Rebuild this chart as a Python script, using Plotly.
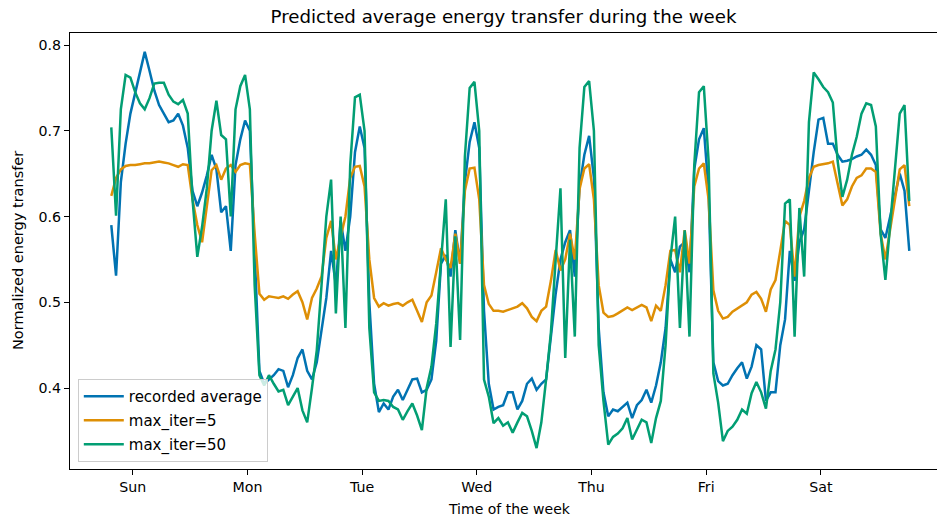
import plotly.graph_objects as go

hours = list(range(168))

recorded_average = [
    0.590, 0.531, 0.640, 0.685, 0.720, 0.745, 0.767, 0.792, 0.770, 0.747,
    0.730, 0.720, 0.710, 0.712, 0.720, 0.706, 0.680, 0.630, 0.612, 0.628,
    0.648, 0.672, 0.655, 0.605, 0.612, 0.560, 0.660, 0.690, 0.712, 0.700,
    0.555, 0.420, 0.405, 0.410, 0.415, 0.422, 0.420, 0.401, 0.415, 0.435,
    0.445, 0.420, 0.410, 0.430, 0.465, 0.505, 0.560, 0.520, 0.595, 0.560,
    0.600, 0.675, 0.705, 0.680, 0.500, 0.405, 0.372, 0.382, 0.375, 0.390,
    0.398, 0.386, 0.398, 0.410, 0.411, 0.395, 0.398, 0.410, 0.455, 0.545,
    0.555, 0.530, 0.584, 0.545, 0.640, 0.687, 0.710, 0.680, 0.490, 0.405,
    0.375, 0.378, 0.380, 0.395, 0.395, 0.375, 0.385, 0.405, 0.411, 0.398,
    0.405, 0.410, 0.460, 0.510, 0.550, 0.570, 0.584, 0.530, 0.635, 0.672,
    0.694, 0.645, 0.470, 0.395, 0.367, 0.375, 0.373, 0.378, 0.383, 0.365,
    0.380, 0.386, 0.398, 0.383, 0.403, 0.430, 0.470, 0.550, 0.535, 0.565,
    0.570, 0.535, 0.655, 0.690, 0.703, 0.630, 0.430, 0.408, 0.403, 0.405,
    0.415, 0.423, 0.430, 0.411, 0.425, 0.450, 0.445, 0.385, 0.395, 0.395,
    0.450, 0.480, 0.560, 0.525, 0.570, 0.585, 0.632, 0.675, 0.713, 0.715,
    0.685, 0.685, 0.672, 0.664, 0.665, 0.667, 0.670, 0.672, 0.678, 0.672,
    0.660, 0.585, 0.575, 0.600, 0.625, 0.650, 0.630, 0.560,
]

max_iter_5 = [
    0.624, 0.645, 0.655, 0.659, 0.660, 0.660, 0.661, 0.662, 0.662, 0.663,
    0.664, 0.663, 0.662, 0.660, 0.658, 0.661, 0.660, 0.620, 0.590, 0.570,
    0.615, 0.654, 0.660, 0.643, 0.656, 0.660, 0.652, 0.660, 0.662, 0.661,
    0.580, 0.510, 0.503, 0.507, 0.506, 0.505, 0.507, 0.504, 0.509, 0.513,
    0.500, 0.480, 0.505, 0.516, 0.530, 0.575, 0.595, 0.550, 0.576, 0.600,
    0.645, 0.658, 0.659, 0.635, 0.550, 0.505, 0.495, 0.499, 0.496, 0.498,
    0.499, 0.496, 0.500, 0.503, 0.490, 0.477, 0.500, 0.508, 0.535, 0.563,
    0.550, 0.540, 0.580, 0.545, 0.630, 0.656, 0.657, 0.620, 0.520, 0.498,
    0.490, 0.490, 0.489, 0.491, 0.493, 0.495, 0.499, 0.493, 0.483, 0.478,
    0.490, 0.495, 0.525, 0.561, 0.537, 0.550, 0.580, 0.550, 0.632, 0.656,
    0.661, 0.620, 0.520, 0.488, 0.483, 0.484, 0.487, 0.491, 0.494, 0.491,
    0.494, 0.497, 0.494, 0.478, 0.496, 0.490, 0.520, 0.560, 0.561, 0.535,
    0.584, 0.545, 0.635, 0.656, 0.662, 0.620, 0.514, 0.490, 0.481, 0.483,
    0.489, 0.493, 0.497, 0.500, 0.509, 0.512, 0.504, 0.489, 0.515, 0.526,
    0.560, 0.595, 0.590, 0.530, 0.600, 0.618, 0.645, 0.658, 0.660, 0.661,
    0.662, 0.664, 0.640, 0.613, 0.620, 0.635, 0.645, 0.648, 0.656, 0.656,
    0.652, 0.580, 0.550, 0.585, 0.623, 0.655, 0.660, 0.612,
]

max_iter_50 = [
    0.704, 0.601, 0.725, 0.765, 0.762, 0.745, 0.732, 0.725, 0.738, 0.755,
    0.756, 0.756, 0.742, 0.734, 0.731, 0.736, 0.720, 0.620, 0.553, 0.588,
    0.633, 0.700, 0.735, 0.695, 0.690, 0.600, 0.725, 0.752, 0.765, 0.725,
    0.520, 0.415, 0.403, 0.415, 0.405, 0.396, 0.398, 0.380, 0.390, 0.400,
    0.374, 0.360, 0.400, 0.444, 0.520, 0.600, 0.643, 0.487, 0.600, 0.470,
    0.660, 0.739, 0.742, 0.700, 0.470, 0.395, 0.385, 0.386, 0.385, 0.378,
    0.375, 0.363, 0.373, 0.382, 0.368, 0.351, 0.400, 0.425, 0.475, 0.550,
    0.620, 0.448, 0.577, 0.456, 0.670, 0.750, 0.757, 0.700, 0.410, 0.390,
    0.359, 0.365, 0.356, 0.360, 0.348, 0.360, 0.371, 0.367, 0.350, 0.330,
    0.360, 0.410, 0.465, 0.550, 0.633, 0.435, 0.573, 0.460, 0.680, 0.751,
    0.758, 0.700, 0.450, 0.385, 0.334, 0.343, 0.347, 0.353, 0.365, 0.340,
    0.352, 0.363, 0.360, 0.336, 0.365, 0.385, 0.450, 0.550, 0.600, 0.470,
    0.584, 0.460, 0.660, 0.745, 0.752, 0.665, 0.417, 0.383, 0.338, 0.350,
    0.355, 0.363, 0.375, 0.370, 0.394, 0.407, 0.395, 0.376, 0.420, 0.445,
    0.500, 0.615, 0.620, 0.460, 0.610, 0.530, 0.710, 0.768, 0.760, 0.751,
    0.745, 0.733, 0.665, 0.623, 0.643, 0.672, 0.693, 0.720, 0.732, 0.730,
    0.705, 0.580, 0.526, 0.590, 0.662, 0.720, 0.730, 0.618,
]

day_labels = ["Sun", "Mon", "Tue", "Wed", "Thu", "Fri", "Sat"]
day_tick_hours = [4.5, 28.5, 52.5, 76.5, 100.5, 124.5, 148.5]
y_ticks = [0.4, 0.5, 0.6, 0.7, 0.8]

series = [
    ("recorded average", recorded_average, "#0173B2"),
    ("max_iter=5", max_iter_5, "#DE8F05"),
    ("max_iter=50", max_iter_50, "#029E73"),
]

FONT = "DejaVu Sans"

fig = go.Figure()
for i, (name, vals, color) in enumerate(series):
    fig.add_trace(go.Scatter(
        x=hours, y=vals, mode="lines", name=name, legendgroup=f"g{i}",
        line=dict(color=color, width=2.5),
    ))

fig.update_layout(
    width=937, height=518,
    margin=dict(l=70, r=0, t=33, b=49),
    paper_bgcolor="white", plot_bgcolor="white",
    font=dict(family=FONT, size=14, color="black"),
    title=dict(
        text="Predicted average energy transfer during the week",
        font=dict(family=FONT, size=18.2, color="black"),
        x=503.5 / 937, xanchor="center",
        y=1 - 17 / 518, yanchor="middle", yref="container",
    ),
    showlegend=True,
    legend=dict(
        x=0.009, y=0.016, xanchor="left", yanchor="bottom",
        bgcolor="rgba(255,255,255,0.8)", bordercolor="#cccccc", borderwidth=1,
        font=dict(family=FONT, size=15, color="black"),
        tracegroupgap=1.5, itemwidth=40,
    ),
    xaxis=dict(
        range=[-8.64, 172.8],
        tickmode="array", tickvals=day_tick_hours, ticktext=day_labels,
        ticks="outside", ticklen=5, tickwidth=1, tickcolor="black",
        showline=True, linecolor="black", linewidth=1, mirror=True,
        showgrid=False, zeroline=False,
        tickfont=dict(family=FONT, size=14.2, color="black"),
    ),
    yaxis=dict(
        range=[0.3056, 0.814],
        tickmode="array", tickvals=y_ticks, ticktext=[f"{v:.1f}" for v in y_ticks],
        ticks="outside", ticklen=5, tickwidth=1, tickcolor="black",
        showline=True, linecolor="black", linewidth=1, mirror=False,
        showgrid=False, zeroline=False,
        tickfont=dict(family=FONT, size=14.2, color="black"),
    ),
    annotations=[
        dict(text="Time of the week", xref="paper", yref="paper",
             x=(509.5 - 70) / 867, y=0, xanchor="center", yanchor="middle",
             yshift=-40, showarrow=False,
             font=dict(family=FONT, size=14, color="black")),
        dict(text="Normalized energy transfer", xref="paper", yref="paper",
             x=0, y=0.5, xanchor="center", yanchor="middle", xshift=-52,
             textangle=-90, showarrow=False,
             font=dict(family=FONT, size=14.5, color="black")),
    ],
)

fig.write_html("out.html")
